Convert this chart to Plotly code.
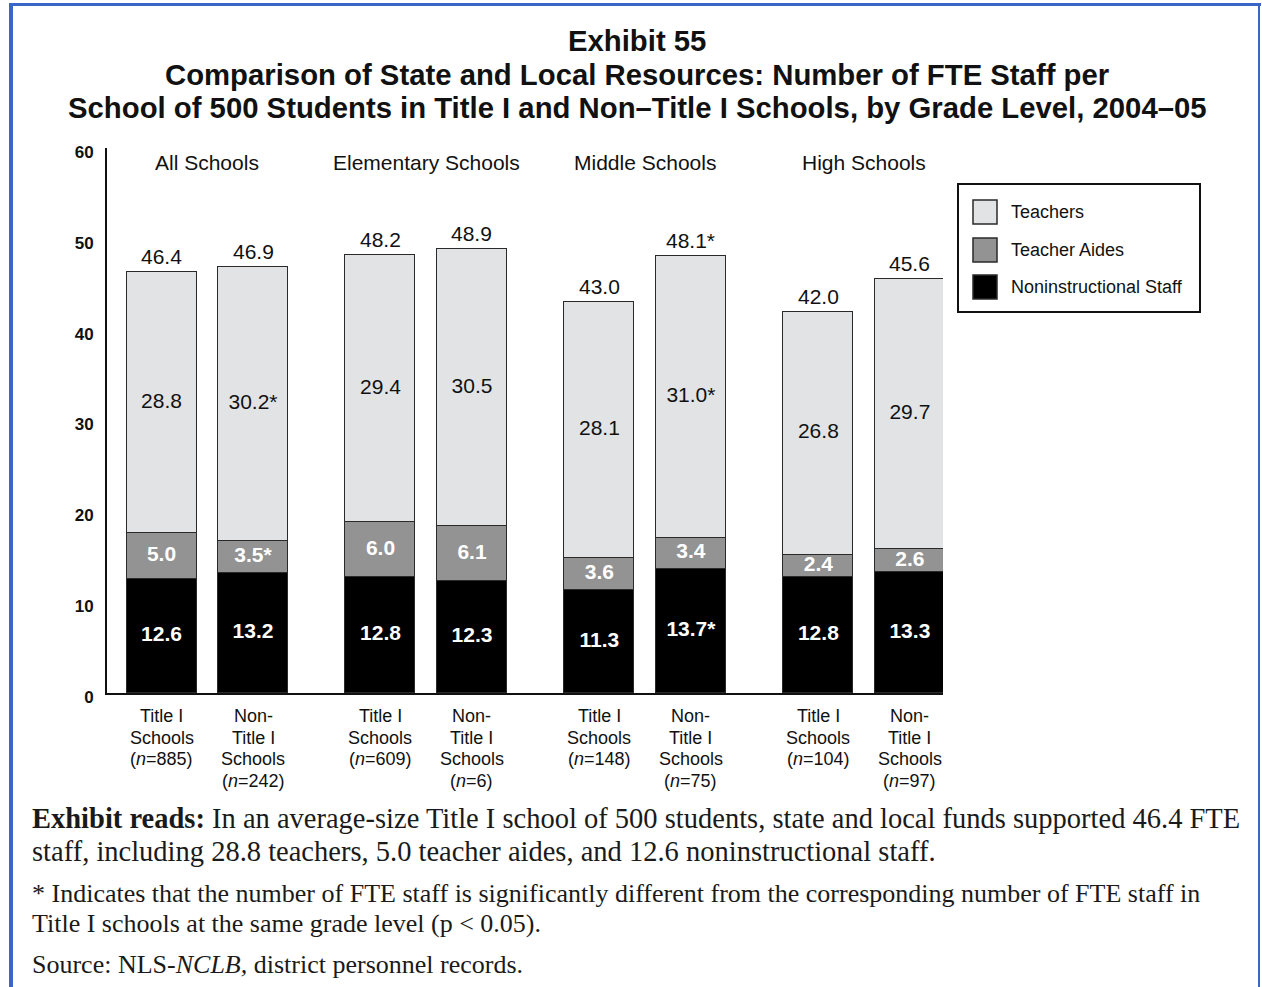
import plotly.graph_objects as go

# ---- data -------------------------------------------------------------
groups = ["All Schools", "Elementary Schools", "Middle Schools", "High Schools"]
school_types = ["Title I", "Non-Title I"]
n_counts = [885, 242, 609, 6, 148, 75, 104, 97]

noninstructional = [12.6, 13.2, 12.8, 12.3, 11.3, 13.7, 12.8, 13.3]
teacher_aides = [5.0, 3.5, 6.0, 6.1, 3.6, 3.4, 2.4, 2.6]
teachers = [28.8, 30.2, 29.4, 30.5, 28.1, 31.0, 26.8, 29.7]
totals = [46.4, 46.9, 48.2, 48.9, 43.0, 48.1, 42.0, 45.6]

# significance flags (p < 0.05 vs. Title I at the same grade level)
sig_nonins = [False, False, False, False, False, True, False, False]
sig_aides = [False, True, False, False, False, False, False, False]
sig_teachers = [False, True, False, False, False, True, False, False]
sig_totals = [False, False, False, False, False, True, False, False]

y_ticks = [0, 10, 20, 30, 40, 50, 60]

# ---- layout constants --------------------------------------------------
W, H = 1262, 987
L, R, T, B = 107, 319, 148, 294
PW, PH = W - L - R, H - T - B

GROUP_STEP = 2.393
BAR_W = 0.765
positions = [g * GROUP_STEP + b for g in range(len(groups)) for b in range(len(school_types))]

C_TEACH = "#e2e3e5"
C_AIDE = "#939393"
C_NONINS = "#000000"
C_EDGE = "#2a2a2a"
INK = "#111111"
SANS = "Liberation Sans, Arial, sans-serif"
SERIF = "Liberation Serif, Times New Roman, serif"


def xp(px):
    return (px - L) / PW


def yp(py):
    return (H - B - py) / PH


def fmt(v, star):
    return f"{v:.1f}" + ("*" if star else "")


def category_lines(i):
    n = f"(<i>n</i>={n_counts[i]})"
    if school_types[i % 2] == "Title I":
        return ["Title I", "Schools", n]
    return ["Non-", "Title I", "Schools", n]


fig = go.Figure()

for name, vals, color in [
    ("Noninstructional Staff", noninstructional, C_NONINS),
    ("Teacher Aides", teacher_aides, C_AIDE),
    ("Teachers", teachers, C_TEACH),
]:
    fig.add_trace(go.Bar(
        x=positions, y=vals, name=name, width=BAR_W,
        marker=dict(color=color, line=dict(color=C_EDGE, width=1.5)),
        hoverinfo="skip", showlegend=False,
    ))

# in-bar value labels, centred on each segment
y_nonins = [v / 2 for v in noninstructional]
y_aides = [n + a / 2 for n, a in zip(noninstructional, teacher_aides)]
y_teach = [n + a + t / 2 for n, a, t in zip(noninstructional, teacher_aides, teachers)]

fig.add_trace(go.Scatter(
    x=positions, y=y_nonins, mode="text",
    text=[fmt(v, s) for v, s in zip(noninstructional, sig_nonins)],
    textfont=dict(family=SANS, size=21, color="white", weight="bold"),
    hoverinfo="skip", showlegend=False,
))
fig.add_trace(go.Scatter(
    x=positions, y=y_aides, mode="text",
    text=[fmt(v, s) for v, s in zip(teacher_aides, sig_aides)],
    textfont=dict(family=SANS, size=21, color="white", weight="bold"),
    hoverinfo="skip", showlegend=False,
))
fig.add_trace(go.Scatter(
    x=positions, y=y_teach, mode="text",
    text=[fmt(v, s) for v, s in zip(teachers, sig_teachers)],
    textfont=dict(family=SANS, size=21, color=INK),
    hoverinfo="skip", showlegend=False,
))

annotations = []
# totals above each stack
for x, tot, s in zip(positions, totals, sig_totals):
    annotations.append(dict(
        x=x, y=tot, xref="x", yref="y", text=fmt(tot, s), showarrow=False,
        yanchor="bottom", yshift=2,
        font=dict(family=SANS, size=21, color=INK),
    ))

# category labels under each bar (tight line spacing)
for i, x in enumerate(positions):
    for j, line in enumerate(category_lines(i)):
        annotations.append(dict(
            x=x, y=yp(716 + 21.7 * j), xref="x", yref="paper", text=line,
            showarrow=False, xanchor="center", yanchor="middle",
            font=dict(family=SANS, size=18, color=INK),
        ))

# group headers
for g, name in enumerate(groups):
    annotations.append(dict(
        x=g * GROUP_STEP + 0.5, y=yp(162), xref="x", yref="paper", text=name,
        showarrow=False, yanchor="middle",
        font=dict(family=SANS, size=21, color=INK),
    ))

# title block
title_lines = [
    ("Exhibit 55", 40),
    ("Comparison of State and Local Resources: Number of FTE Staff per", 74),
    ("School of 500 Students in Title I and Non–Title I Schools, by Grade Level, 2004–05", 107),
]
for txt, py in title_lines:
    annotations.append(dict(
        x=xp(637), y=yp(py), xref="paper", yref="paper", text=f"<b>{txt}</b>",
        showarrow=False, xanchor="center", yanchor="middle",
        font=dict(family=SANS, size=29.3, color=INK),
    ))

# legend (drawn by hand for large swatches)
shapes = [dict(type="rect", xref="paper", yref="paper",
               x0=xp(958), x1=xp(1200), y0=yp(184), y1=yp(312),
               line=dict(color=INK, width=2), fillcolor="white")]
legend_items = [("Teachers", C_TEACH, 212), ("Teacher Aides", C_AIDE, 250),
                ("Noninstructional Staff", C_NONINS, 287)]
for label, color, py in legend_items:
    shapes.append(dict(type="rect", xref="paper", yref="paper",
                       x0=xp(973), x1=xp(997), y0=yp(py + 12), y1=yp(py - 12),
                       line=dict(color=C_EDGE, width=1.5), fillcolor=color))
    annotations.append(dict(
        x=xp(1009), y=yp(py), xref="paper", yref="paper", text=label,
        showarrow=False, xanchor="left", yanchor="middle",
        font=dict(family=SANS, size=18, color=INK),
    ))

# notes beneath the chart
notes = [
    ("<b>Exhibit reads:</b> In an average-size Title I school of 500 students, "
     "state and local funds supported 46.4 FTE", 818, 28.5),
    ("staff, including 28.8 teachers, 5.0 teacher aides, and 12.6 noninstructional staff.", 851, 28.5),
    ("* Indicates that the number of FTE staff is significantly different from the "
     "corresponding number of FTE staff in", 893, 26),
    ("Title I schools at the same grade level (p &lt; 0.05).", 923, 26),
    ("Source: NLS-<i>NCLB,</i> district personnel records.", 964, 26),
]
for txt, py, size in notes:
    annotations.append(dict(
        x=xp(30), y=yp(py), xref="paper", yref="paper", text=txt,
        showarrow=False, xanchor="left", yanchor="middle",
        font=dict(family=SERIF, size=size, color="#1a1a1a"),
    ))

# page frame
BLUE = "#3a66c8"
shapes += [
    dict(type="line", xref="paper", yref="paper", x0=xp(11), x1=xp(11),
         y0=yp(3), y1=yp(990), line=dict(color=BLUE, width=4)),
    dict(type="line", xref="paper", yref="paper", x0=xp(9), x1=xp(1261),
         y0=yp(4.5), y1=yp(4.5), line=dict(color=BLUE, width=3)),
    dict(type="line", xref="paper", yref="paper", x0=xp(1259), x1=xp(1259),
         y0=yp(3), y1=yp(990), line=dict(color=BLUE, width=2)),
]

fig.update_layout(
    width=W, height=H,
    margin=dict(l=L, r=R, t=T, b=B, pad=0),
    paper_bgcolor="white", plot_bgcolor="white",
    barmode="stack", bargap=0,
    showlegend=False,
    annotations=annotations, shapes=shapes,
    xaxis=dict(
        range=[-0.596, 8.541], showgrid=False, zeroline=False,
        showline=True, linecolor=INK, linewidth=2,
        tickmode="array", tickvals=positions, showticklabels=False, ticks="",
    ),
    yaxis=dict(
        range=[0, 60], showgrid=False, zeroline=False,
        showline=True, linecolor=INK, linewidth=2,
        tickmode="array", tickvals=y_ticks,
        ticks="", ticklabelstandoff=8, ticklabelshift=4,
        tickfont=dict(family=SANS, size=17, color=INK, weight="bold"),
    ),
)

fig.write_html("out.html")
